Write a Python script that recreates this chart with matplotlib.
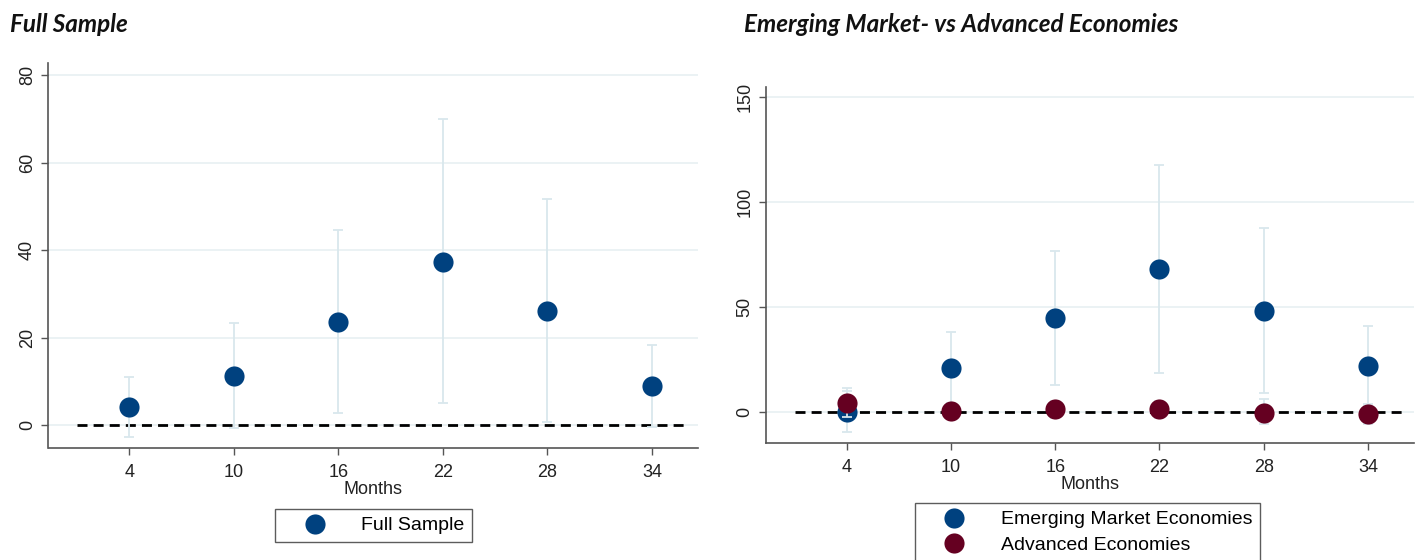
import matplotlib
matplotlib.use("Agg")
import matplotlib.pyplot as plt
from matplotlib.lines import Line2D

plt.rcParams["font.family"] = ["Liberation Sans", "DejaVu Sans"]

# Horizon (months after the shock)
months = [4, 10, 16, 22, 28, 34]

# Full sample: point estimates and confidence bands
full_est = [4.2, 11.3, 23.7, 37.4, 26.2, 9.0]
full_lo = [-2.6, -0.6, 2.9, 5.0, 0.8, -0.4]
full_hi = [11.1, 23.4, 44.6, 70.0, 51.7, 18.3]

# Emerging market economies
em_est = [0.4, 21.0, 44.6, 68.2, 48.1, 22.0]
em_lo = [-9.3, 3.0, 12.8, 18.5, 9.0, 3.0]
em_hi = [11.4, 38.1, 76.7, 117.4, 87.7, 41.0]

# Advanced economies
ae_est = [4.3, 0.7, 1.4, 1.4, -0.2, -0.8]
ae_lo = [-2.0, -3.0, -2.5, -2.5, -5.5, -5.5]
ae_hi = [10.0, 4.5, 5.5, 5.5, 6.2, 4.2]

full_yticks = [0, 20, 40, 60, 80]
split_yticks = [0, 50, 100, 150]

BLUE = "#00417f"
RED = "#650021"
CI_COLOR = "#d9e7ed"
GRID_COLOR = "#e8f0f2"
AXIS_COLOR = "#555555"
MARKER_SIZE = 14.5

W, H = 1416, 560
fig = plt.figure(figsize=(W / 100, H / 100), dpi=100)


def px_axes(x0, y0, x1, y1):
    return fig.add_axes([x0 / W, 1 - y1 / H, (x1 - x0) / W, (y1 - y0) / H])


def style_axes(ax, ylim, yticks):
    ax.set_xlim(-0.65, 36.65)
    ax.set_ylim(*ylim)
    ax.set_xticks(months)
    ax.set_xticklabels([str(m) for m in months])
    ax.set_yticks(yticks)
    ax.set_yticklabels([str(t) for t in yticks], rotation=90, va="center")
    for s in ("top", "right"):
        ax.spines[s].set_visible(False)
    for s in ("left", "bottom"):
        ax.spines[s].set_color(AXIS_COLOR)
        ax.spines[s].set_linewidth(1.2)
    ax.tick_params(axis="both", colors=AXIS_COLOR, labelcolor="#222222",
                   labelsize=13, length=5, width=1.0)
    ax.tick_params(axis="x", pad=6)
    ax.tick_params(axis="y", pad=4)
    ax.grid(axis="y", color=GRID_COLOR, linewidth=1.2)
    ax.set_axisbelow(True)
    ax.set_xlabel("Months", fontsize=13, color="#222222", labelpad=0)
    ax.plot([1, 36], [0, 0], color="black", linestyle=(0, (3.6, 2.2)),
            linewidth=2.0, zorder=2)


def draw_series(ax, est, lo, hi, color, z):
    yerr = [[e - l for e, l in zip(est, lo)], [h - e for e, h in zip(est, hi)]]
    ax.errorbar(months, est, yerr=yerr, fmt="none", ecolor=CI_COLOR,
                elinewidth=1.3, capsize=3.5, capthick=1.3, zorder=z)
    ax.plot(months, est, "o", color=color, markersize=MARKER_SIZE,
            markeredgewidth=0, zorder=z + 1)


# Left panel: full sample
ax1 = px_axes(48.5, 63.3, 698, 448.3)
style_axes(ax1, (-5.25, 82.7), full_yticks)
draw_series(ax1, full_est, full_lo, full_hi, BLUE, 3)

# Right panel: emerging vs advanced
ax2 = px_axes(766, 87.3, 1414, 443.3)
style_axes(ax2, (-14.7, 154.4), split_yticks)
draw_series(ax2, em_est, em_lo, em_hi, BLUE, 3)
draw_series(ax2, ae_est, ae_lo, ae_hi, RED, 5)

title_kw = dict(fontsize=17.5, fontweight="bold", fontstyle="italic",
                family=["Lato", "DejaVu Sans"], va="center", ha="left",
                color="#111111")
fig.text(10 / W, 1 - 25 / H, "Full Sample", **title_kw)
fig.text(744 / W, 1 - 25 / H, "Emerging Market- vs Advanced Economies", **title_kw)


def handle(color):
    return Line2D([], [], marker="o", linestyle="none", color=color,
                  markersize=MARKER_SIZE, markeredgewidth=0)


leg_kw = dict(frameon=True, fancybox=False, fontsize=14, handletextpad=0.75,
              borderpad=0.4, labelspacing=0.4, borderaxespad=0,
              edgecolor="#333333", handlelength=3.3)
leg1 = fig.legend([handle(BLUE)], ["Full Sample"], loc="center",
                  bbox_to_anchor=(373.5 / W, 1 - 525.5 / H), **leg_kw)
leg1.get_frame().set_linewidth(1.0)
leg2 = fig.legend([handle(BLUE), handle(RED)],
                  ["Emerging Market Economies", "Advanced Economies"],
                  loc="upper center", bbox_to_anchor=(1087.5 / W, 1 - 503 / H),
                  **leg_kw)
leg2.get_frame().set_linewidth(1.0)

fig.savefig("out.png", dpi=100, facecolor="white")
